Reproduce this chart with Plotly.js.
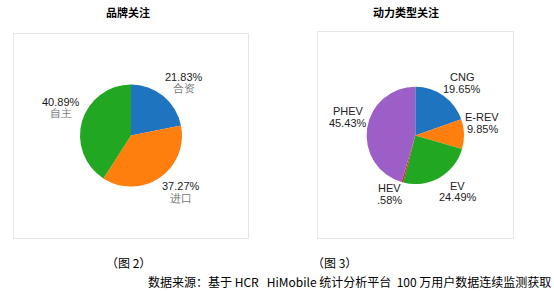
<!DOCTYPE html>
<html>
<head>
<meta charset="utf-8">
<script src="https://cdn.plot.ly/plotly-3.0.1.min.js"></script>
<style>
html,body{margin:0;padding:0;background:#fff;}
#chart{width:554px;height:291px;}
</style>
</head>
<body>
<div id="chart"></div>
<script>
// ---- data ----
var brandLabels = ['合资', '进口', '自主'];
var brandValues = [21.83, 37.27, 40.89];
var brandColors = ['#1f74c0', '#ff7f0e', '#22a722'];

var powerLabels = ['CNG', 'E-REV', 'EV', 'HEV', 'PHEV'];
var powerValues = [19.65, 9.85, 24.49, 0.58, 45.43];
var powerTexts  = ['19.65%', '9.85%', '24.49%', '.58%', '45.43%'];
var powerColors = ['#1f74c0', '#ff7f0e', '#22a722', '#d62728', '#9c5fc8'];

var title1 = '品牌关注';
var title2 = '动力类型关注';
var caption1 = '（图 2）';
var caption2 = '（图 3）';
var sourceText = '数据来源：基于 HCR&nbsp;&nbsp;&nbsp;HiMobile 统计分析平台&nbsp;&nbsp;100 万用户数据连续监测获取';

// ---- layout (pixel positions) ----
var W = 554, H = 291;
function px(x){ return x / W; }
function py(y){ return 1 - y / H; }

var pie1 = {cx: 131, cy: 135.5, r: 51};
var pie2 = {cx: 415.3, cy: 135.4, r: 48.7};

// label block centres (layout only)
var brandLabelPos = [[183.5, 82.5], [180.5, 191.7], [61, 107.5]];
var powerLabelPos = [[462, 83], [482, 123.2], [457.6, 191.4], [389.6, 194.2], [348, 117.2]];
var lineGap = 11.6;

function dom(p){
  return {x: [px(p.cx - p.r), px(p.cx + p.r)], y: [py(p.cy + p.r), py(p.cy - p.r)]};
}

var labelFont = 'Liberation Sans, Arial, sans-serif';
function txt(x, y, text, color){
  return {x: px(x), y: py(y), xref: 'paper', yref: 'paper', xanchor: 'center', yanchor: 'middle',
    showarrow: false, text: text, font: {family: labelFont, size: 11, color: color}};
}

var traces = [
  {
    type: 'pie', labels: brandLabels, values: brandValues,
    marker: {colors: brandColors, line: {width: 0}},
    sort: false, direction: 'clockwise', rotation: 0,
    textinfo: 'none', hoverinfo: 'label+percent', showlegend: false,
    domain: dom(pie1)
  },
  {
    type: 'pie', labels: powerLabels, values: powerValues,
    marker: {colors: powerColors, line: {width: 0}},
    sort: false, direction: 'clockwise', rotation: 0,
    textinfo: 'none', hoverinfo: 'label+percent', showlegend: false,
    domain: dom(pie2)
  }
];

var anns = [];
brandLabels.forEach(function(l, i){
  var p = brandLabelPos[i];
  anns.push(txt(p[0], p[1] - lineGap / 2, brandValues[i].toFixed(2) + '%', '#1a1a1a'));
  anns.push(txt(p[0], p[1] + lineGap / 2, l, '#777'));
});
powerLabels.forEach(function(l, i){
  var p = powerLabelPos[i];
  anns.push(txt(p[0], p[1] - lineGap / 2, l, '#222'));
  anns.push(txt(p[0], p[1] + lineGap / 2, powerTexts[i], '#222'));
});

var cjk = 'Noto Sans CJK SC, sans-serif';
anns.push({x: px(128), y: py(12), xref:'paper', yref:'paper', showarrow:false, xanchor:'center', yanchor:'middle',
  text: '<b>' + title1 + '</b>', font: {family: cjk, size: 11, color: '#000'}});
anns.push({x: px(406), y: py(12), xref:'paper', yref:'paper', showarrow:false, xanchor:'center', yanchor:'middle',
  text: '<b>' + title2 + '</b>', font: {family: cjk, size: 11, color: '#000'}});
anns.push({x: px(128), y: py(262), xref:'paper', yref:'paper', showarrow:false, xanchor:'center', yanchor:'middle',
  text: caption1, font: {family: cjk, size: 12, color: '#000'}});
anns.push({x: px(334), y: py(262), xref:'paper', yref:'paper', showarrow:false, xanchor:'center', yanchor:'middle',
  text: caption2, font: {family: cjk, size: 12, color: '#000'}});
anns.push({x: px(146), y: py(281), xref:'paper', yref:'paper', showarrow:false, xanchor:'left', yanchor:'middle',
  text: sourceText, font: {family: cjk, size: 12, color: '#000'}});

var shapes = [
  {type:'rect', xref:'paper', yref:'paper', x0: px(13.5), x1: px(248.5), y0: py(238.5), y1: py(33.5),
   line: {color: '#e6e6e6', width: 1}},
  {type:'rect', xref:'paper', yref:'paper', x0: px(317.5), x1: px(513.5), y0: py(238.5), y1: py(31.5),
   line: {color: '#e6e6e6', width: 1}}
];

var layout = {
  width: W, height: H,
  margin: {l:0, r:0, t:0, b:0},
  paper_bgcolor: '#fff', plot_bgcolor: '#fff',
  showlegend: false,
  annotations: anns,
  shapes: shapes
};

Plotly.newPlot('chart', traces, layout, {displayModeBar: false, staticPlot: true});
</script>
</body>
</html>
